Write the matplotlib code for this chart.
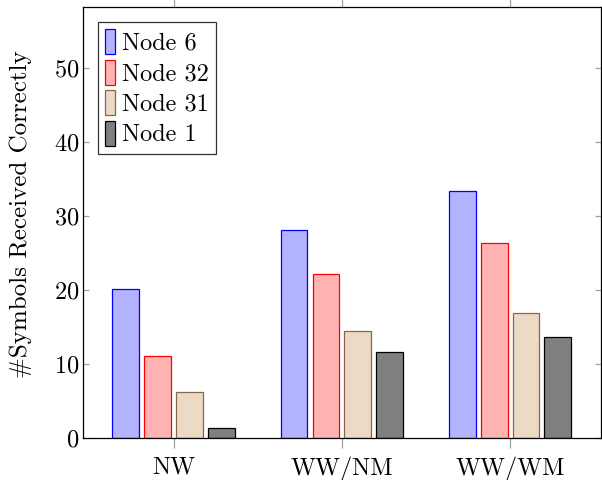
import numpy as np
import matplotlib
matplotlib.use("Agg")
import matplotlib.pyplot as plt

plt.rcParams['font.family'] = ['cmr10', 'DejaVu Serif']
plt.rcParams['mathtext.fontset'] = 'cm'
plt.rcParams['axes.formatter.use_mathtext'] = True

# data
categories = ["NW", "WW/NM", "WW/WM"]
series_names = ["Node 6", "Node 32", "Node 31", "Node 1"]
node6 = [20.1, 28.1, 33.4]
node32 = [11.1, 22.2, 26.3]
node31 = [6.2, 14.4, 16.9]
node1 = [1.4, 11.6, 13.6]
yticks = [0, 10, 20, 30, 40, 50]

series = [node6, node32, node31, node1]
fills = ["#b3b3ff", "#ffb3b3", "#ecd9c6", "#808080"]
edges = ["#0000ff", "#ff0000", "#86674a", "#000000"]

fig = plt.figure(figsize=(6.02, 4.8), dpi=100)
ax = fig.add_axes([0.138, 0.0875, 0.86, 0.8975])

x = np.arange(len(categories))
width = 0.16
step = 0.19
for i, (vals, fc, ec, name) in enumerate(zip(series, fills, edges, series_names)):
    ax.bar(x + (i - 1.5) * step, vals, width, color=fc, edgecolor=ec,
           linewidth=0.9, label=name)

ax.set_xlim(-0.54, 2.54)
ax.set_ylim(0, 58.2)
ax.set_xticks(x)
ax.set_xticklabels(categories, fontsize=17.5)
ax.set_yticks(yticks)
ax.tick_params(axis='y', labelsize=17.5, direction='in', left=True, right=True,
               length=4, color='#a0a0a0', width=0.9, pad=3)
ax.tick_params(axis='x', direction='out', top=True, bottom=True,
               length=7, color='#a0a0a0', width=0.9, pad=6)
ax.set_ylabel("#Symbols Received Correctly", fontsize=18)
ax.yaxis.set_label_coords(-0.098, 0.52)
for s in ax.spines.values():
    s.set_linewidth(0.9)

leg = ax.legend(loc='upper left', fontsize=17.5, frameon=True, fancybox=False,
                handlelength=0.4, handleheight=1.2, handletextpad=0.3,
                borderpad=0.3, labelspacing=0.2, borderaxespad=0.6)
leg.get_frame().set_edgecolor('black')
leg.get_frame().set_linewidth(0.9)

fig.savefig("out.png", dpi=100)
